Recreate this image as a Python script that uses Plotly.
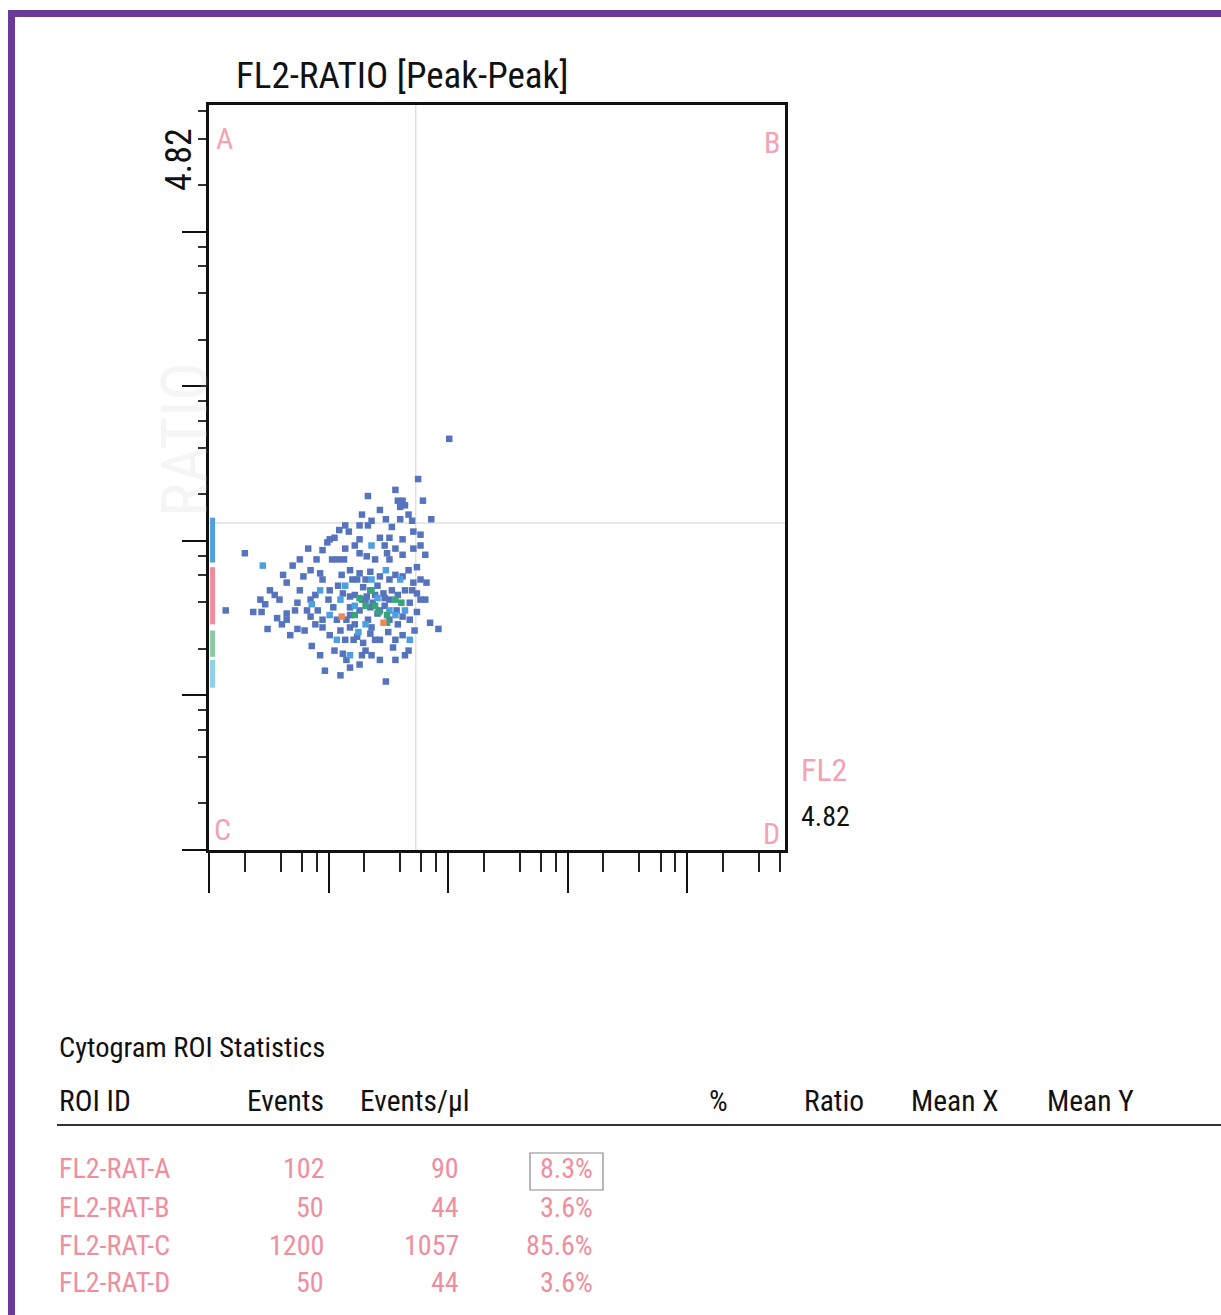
import plotly.graph_objects as go
import numpy as np

W, H = 1221, 1315

# ---------------- data (decade units, log scale channels 0..4.82) ----------------
axis_max = 4.82
quad_x = 1.73
quad_y = 2.115

dark_x = [2.01, 1.75, 1.79, 1.86, 1.33, 1.58, 1.62, 1.60, 1.48, 1.60, 1.26, 1.33, 1.09, 1.17, 1.71,
          0.30, 0.83, 1.43, 1.51, 1.62, 1.71, 0.70, 0.90, 1.03, 1.13, 0.99, 1.05, 1.26, 1.32, 1.49,
          1.51, 1.74, 0.79, 0.65, 0.93, 0.95, 1.18, 1.26, 1.35, 1.43, 1.51, 1.62, 1.71, 1.82, 1.74,
          0.14, 0.37, 0.47, 0.44, 0.57, 0.65, 0.65, 0.74, 0.82, 0.85, 0.49, 0.68, 0.74, 0.86, 0.95,
          0.95, 1.04, 1.07, 1.12, 1.18, 1.18, 1.15, 1.29, 1.32, 1.37, 1.41, 1.46, 1.51, 1.57, 1.62,
          1.68, 1.74, 1.85, 1.92, 1.10, 1.18, 1.24, 1.29, 1.35, 1.43, 1.54, 1.05, 1.12, 1.15, 1.18,
          0.97, 1.21, 1.31, 1.48, 1.22, 1.28, 1.35, 1.39, 1.47, 1.53, 1.58, 1.64, 1.24, 1.11, 1.01,
          0.89, 0.76, 0.59, 0.51, 0.80, 1.33, 1.50, 1.62, 1.68, 1.77, 1.39, 1.56, 1.22, 1.14, 1.36,
          1.53, 1.67, 1.43, 1.77, 1.81, 1.26, 1.36, 1.56, 1.67, 0.93, 0.85,
          1.01, 1.14, 1.28, 1.56, 1.64, 1.70, 1.77, 0.76, 0.85, 0.62, 0.55, 0.43, 0.72, 0.91, 1.00,
          1.08, 1.20, 1.31, 1.41, 1.56, 1.67, 1.70, 1.58, 1.26, 1.43, 1.51, 1.36, 1.22, 1.01, 0.89,
          0.61, 1.14, 1.56, 1.72, 1.64, 1.43, 1.10, 1.77, 1.81, 1.08, 0.95, 1.26, 1.47, 1.62, 1.35,
          1.47, 1.31, 1.18, 1.39, 1.28]
dark_y = [2.66, 2.40, 2.26, 2.14, 2.29, 2.26, 2.26, 2.22, 2.14, 2.14, 2.10, 2.10, 2.07, 2.06, 2.06,
          1.92, 1.95, 2.02, 2.02, 2.01, 1.95, 1.84, 1.88, 1.88, 1.88, 1.99, 2.02, 1.92, 1.90, 1.92,
          1.88, 1.83, 1.77, 1.73, 1.79, 1.75, 1.81, 1.79, 1.80, 1.77, 1.75, 1.77, 1.73, 1.73, 1.66,
          1.55, 1.54, 1.59, 1.54, 1.50, 1.53, 1.49, 1.60, 1.55, 1.51, 1.43, 1.39, 1.43, 1.32, 1.49,
          1.44, 1.57, 1.49, 1.66, 1.64, 1.57, 1.49, 1.70, 1.64, 1.60, 1.53, 1.66, 1.62, 1.55, 1.51,
          1.60, 1.54, 1.47, 1.43, 1.42, 1.44, 1.38, 1.34, 1.40, 1.36, 1.31, 1.29, 1.27, 1.23, 1.18,
          1.16, 1.36, 1.29, 1.09, 1.65, 1.62, 1.57, 1.65, 1.58, 1.68, 1.46, 1.68, 1.75, 1.78, 1.68,
          1.65, 1.68, 1.62, 1.68, 1.42, 1.49, 1.41, 1.39, 1.49, 1.62, 1.88, 1.95, 1.97, 1.95, 2.13,
          2.09, 2.17, 2.20, 1.97, 1.91, 1.20, 1.26, 1.23, 1.29, 1.26, 1.62,
          2.01, 2.10, 2.17, 2.33, 2.23, 2.13, 2.04, 1.88, 1.81, 1.78, 1.65, 1.62, 1.55, 1.55, 1.62,
          1.71, 1.75, 1.75, 1.71, 1.78, 1.81, 1.68, 1.65, 1.55, 1.55, 1.49, 1.44, 1.46, 1.39, 1.46,
          1.46, 1.36, 1.36, 1.42, 1.26, 1.23, 1.13, 1.75, 1.62, 1.88, 1.94, 2.01, 1.97, 1.91, 1.68,
          1.63, 1.62, 1.52, 1.36, 1.26]

light_x = [0.45, 0.86, 1.07, 1.22, 1.41, 1.56, 1.31, 1.60, 1.14, 1.48, 1.68, 1.18, 1.01, 1.36,
           1.10, 1.51, 1.36, 1.25, 1.64, 0.93]
light_y = [1.84, 1.59, 1.36, 1.58, 1.63, 1.52, 1.46, 1.75, 1.71, 1.81, 1.36, 1.26, 1.52, 1.97,
           1.62, 1.55, 1.75, 1.41, 1.55, 1.68]

green_x = [1.31, 1.42, 1.56, 1.36, 1.22, 1.49, 1.39, 1.26, 1.49, 1.61]
green_y = [1.58, 1.54, 1.62, 1.68, 1.52, 1.47, 1.58, 1.63, 1.52, 1.60]

orange_x = [1.46, 1.11]
orange_y = [1.47, 1.51]

# events piled at the left edge (off-scale), as colour segments [top, bottom]
edge_x = 0.03
edge_blue = [2.15, 1.86]
edge_pink = [1.83, 1.46]
edge_green = [1.42, 1.25]
edge_cyan = [1.23, 1.05]

# statistics table
roi_ids = ["FL2-RAT-A", "FL2-RAT-B", "FL2-RAT-C", "FL2-RAT-D"]
events = [102, 50, 1200, 50]
events_ul = [90, 44, 1057, 44]
pct = [8.3, 3.6, 85.6, 3.6]
headers = ["ROI ID", "Events", "Events/µl", "%", "Ratio", "Mean X", "Mean Y"]

# ---------------- styling ----------------
FONT = "Liberation Sans Narrow, Arial Narrow, Roboto Condensed, Liberation Sans, Arial, sans-serif"
PINK = "#ef8e9e"
PINK_L = "#f3a3b1"
PURPLE = "#6a3a98"

def px(x):
    return x / W

def py(y):
    return 1 - y / H

x0, x1, y0, y1 = 209, 785, 105, 850

fig = go.Figure()

# quadrant lines
fig.add_trace(go.Scatter(x=[quad_x, quad_x], y=[0, axis_max], mode="lines",
                         line=dict(color="#e0e0e0", width=1.5), hoverinfo="skip", showlegend=False))
fig.add_trace(go.Scatter(x=[0, axis_max], y=[quad_y, quad_y], mode="lines",
                         line=dict(color="#e0e0e0", width=1.5), hoverinfo="skip", showlegend=False))

# edge strips
for seg, col in [(edge_blue, "#4f9fdc"), (edge_pink, "#f08c9c"), (edge_green, "#8cc8a0"), (edge_cyan, "#8fd0e8")]:
    fig.add_trace(go.Scatter(x=[edge_x, edge_x], y=seg, mode="lines",
                             line=dict(color=col, width=5), showlegend=False, hoverinfo="skip"))

for xs, ys, col in [(dark_x, dark_y, "#5673be"), (light_x, light_y, "#4c9fe0"),
                    (green_x, green_y, "#36a67a"), (orange_x, orange_y, "#e88a5a")]:
    fig.add_trace(go.Scatter(x=xs, y=ys, mode="markers",
                             marker=dict(symbol="square", size=6.5, color=col, line=dict(width=0)),
                             showlegend=False))

major = [0, 1, 2, 3, 4]
minor = [d + np.log10(m) for d in range(5) for m in (2, 4, 6, 8) if d + np.log10(m) <= axis_max]

fig.update_xaxes(range=[0, axis_max], domain=[px(x0), px(x1)], showline=True, mirror=True,
                 linecolor="#111", linewidth=2.5, showgrid=False, zeroline=False,
                 ticks="outside", tickvals=major, ticklen=40, tickwidth=2, tickcolor="#111",
                 showticklabels=False,
                 minor=dict(tickvals=minor, ticks="outside", ticklen=19, tickwidth=2, tickcolor="#222",
                            showgrid=False))
fig.update_yaxes(range=[0, axis_max], domain=[py(y1), py(y0)], showline=True, mirror=True,
                 linecolor="#111", linewidth=2.5, showgrid=False, zeroline=False,
                 ticks="outside", tickvals=major, ticklen=24, tickwidth=2, tickcolor="#111",
                 showticklabels=False,
                 minor=dict(tickvals=minor, ticks="outside", ticklen=8, tickwidth=1.5, tickcolor="#333",
                            showgrid=False))

ann = []
def text(x, y, t, size, color="#111", xanchor="left", yanchor="middle", angle=0, **kw):
    ann.append(dict(x=px(x), y=py(y), xref="paper", yref="paper", text=t, showarrow=False,
                    xanchor=xanchor, yanchor=yanchor, textangle=angle,
                    font=dict(family=FONT, size=size, color=color), **kw))

# watermark
text(186, 440, "RATIO", 64, color="rgba(200,200,200,0.18)", xanchor="center", angle=-90)
# title
text(234, 75, "FL2-RATIO [Peak-Peak]", 37)
# y max label
text(179, 160, "4.82", 36, xanchor="center", angle=-90)
# quadrant letters
text(214, 138, "A", 30, PINK_L)
text(782, 142, "B", 30, PINK_L, xanchor="right")
text(212, 830, "C", 30, PINK_L)
text(782, 833, "D", 30, PINK_L, xanchor="right")
# x axis labels
text(799, 770, "FL2", 32, PINK_L)
text(799, 816, "4.82", 28)

# table
text(57, 1047, "Cytogram ROI Statistics", 28.5)
hdr_pos = [(57, "left"), (326, "right"), (358, "left"), (730, "right"), (866, "right"), (1001, "right"), (1136, "right")]
for h, (x, a) in zip(headers, hdr_pos):
    text(x, 1101, h, 29.5, xanchor=a)

row_y = [1168, 1207, 1245, 1282]
for rid, e, eu, p, yy in zip(roi_ids, events, events_ul, pct, row_y):
    text(57, yy, rid, 28, PINK)
    text(326, yy, str(e), 28, PINK, xanchor="right")
    text(461, yy, str(eu), 28, PINK, xanchor="right")
    text(595, yy, f"{p}%", 28, PINK, xanchor="right")

shapes = [
    # purple frame (top and left)
    dict(type="rect", xref="paper", yref="paper", x0=px(8), x1=px(W + 5), y0=py(17), y1=py(10),
         fillcolor=PURPLE, line=dict(width=0)),
    dict(type="rect", xref="paper", yref="paper", x0=px(8), x1=px(15), y0=py(H + 5), y1=py(10),
         fillcolor=PURPLE, line=dict(width=0)),
    # table header rule
    dict(type="line", xref="paper", yref="paper", x0=px(57), x1=px(W), y0=py(1125), y1=py(1125),
         line=dict(color="#333", width=2)),
    # box around the first percentage
    dict(type="rect", xref="paper", yref="paper", x0=px(530), x1=px(603), y0=py(1190), y1=py(1153),
         line=dict(color="#888", width=1.2)),
]

fig.update_layout(width=W, height=H, margin=dict(l=0, r=0, t=0, b=0),
                  paper_bgcolor="white", plot_bgcolor="white",
                  annotations=ann, shapes=shapes, showlegend=False)

fig.write_html("out.html")
